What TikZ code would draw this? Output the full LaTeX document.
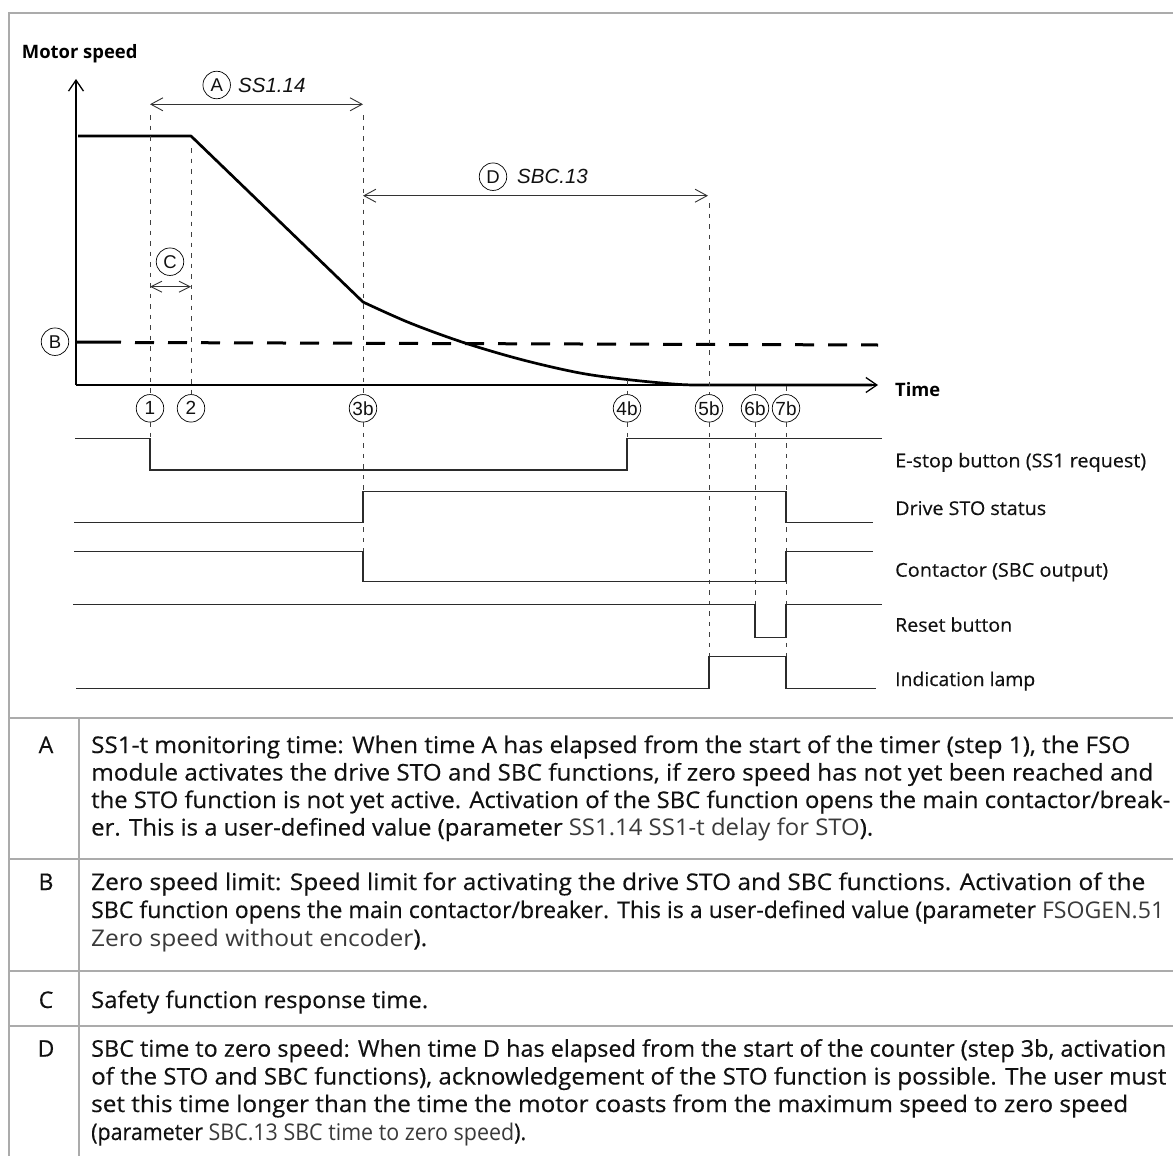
\documentclass[tikz,border=0pt]{standalone}
\usepackage{fontspec}
\setmainfont{Open Sans}
\newfontfamily\bodyf[FakeBold=0.35]{Open Sans}
\newfontfamily\arialf{Liberation Sans}
\usetikzlibrary{arrows.meta}
\definecolor{framegray}{HTML}{ABABAB}
\definecolor{wave}{HTML}{2B2B2B}
\definecolor{txt}{HTML}{111111}
\definecolor{lighttxt}{HTML}{3A3A3A}
\newcommand\tl[2]{\resizebox{#1pt}{\height}{#2}}
\newcommand\lt[1]{{\normalfont\color{lighttxt}#1}}
\begin{document}
\begin{tikzpicture}[x=1pt,y=-1pt,
  vdash/.style={line width=0.8pt, draw=black!75, dash pattern=on 4.5pt off 6pt},
  wav/.style={line width=1.3pt, draw=wave, line join=miter},
  circ/.style={circle, draw=black, line width=0.7pt, fill=white, minimum size=27.5pt, inner sep=0pt, text=txt, font=\arialf\fontsize{19pt}{19pt}\selectfont},
  lcirc/.style={circ, font=\arialf\fontsize{18.5pt}{18.5pt}\selectfont},
  dimarrow/.style={line width=0.9pt, draw=black!80, {Straight Barb[length=12pt,width=13pt]}-{Straight Barb[length=12pt,width=13pt]}},
  smalldim/.style={line width=0.9pt, draw=black!80, {Straight Barb[length=11pt,width=11pt]}-{Straight Barb[length=11pt,width=11pt]}},
  axisline/.style={line width=1.3pt, draw=black, -{Straight Barb[length=11pt,width=15pt]}},
  speedline/.style={line width=2.7pt, draw=black, line join=round},
  bline/.style={line width=3pt, draw=black},
  ital/.style={anchor=base west, inner sep=0pt, text=txt, font=\arialf\itshape\fontsize{20.5pt}{20.5pt}\selectfont},
  sig/.style={anchor=base west, inner sep=0pt, text=txt, font=\bodyf\fontsize{19pt}{19pt}\selectfont},
  bold/.style={anchor=base west, inner sep=0pt, text=black, font=\bfseries\fontsize{18.5pt}{18.5pt}\selectfont},
  tline/.style={anchor=base west, inner sep=0pt, text=txt, font=\bodyf\fontsize{23pt}{23pt}\selectfont},
  rowl/.style={anchor=base, inner sep=0pt, text=txt, font=\bodyf\fontsize{23pt}{23pt}\selectfont},
  tab/.style={draw=framegray, line width=1.4pt}
]
\useasboundingbox (0,0) rectangle (1173,1156);
\fill[white] (0,0) rectangle (1173,1156);

% frame and table
\draw[tab, line width=1.6pt] (1173,13) -- (9,13) -- (9,1156);
\foreach \yy in {718,859,971,1026} \draw[tab] (9,\yy) -- (1173,\yy);
\draw[tab] (79,718) -- (79,1156);

% axes
\coordinate (org) at (76,385);
\coordinate (ytip) at (76,79);
\coordinate (xtip) at (878,385);
\draw[axisline] (org) -- (ytip);
\draw[axisline] (org) -- (xtip);
\node[bold] (ms) at (21.7,58.5) {\tl{115.6}{Motor speed}};
\node[bold] (time) at (895,396) {\tl{45}{Time}};

% zero speed limit line
\draw[bline] (76,342) -- (121,342.2);
\draw[bline, dash pattern=on 19pt off 14pt] (135,342.5) -- (878,345);

% speed curve
\draw[speedline] (78,136) -- (191,136) -- (363,302) -- plot[smooth, tension=0.55] coordinates {(363,302) (410,323) (465,343) (523,360) (580,373) (627,379.5) (677,384.3) (700,385)} -- (872,385);

% dimension arrows
\coordinate (a1) at (150,104.3);
\coordinate (a2) at (363,104.3);
\draw[dimarrow] (a1) -- (a2);
\node[lcirc] (ca) at (216.7,85) {A};
\node[ital] (ss) at (238,92.5) {SS1.14};

\coordinate (d1) at (363,195.7);
\coordinate (d2) at (708,195.7);
\draw[dimarrow] (d1) -- (d2);
\node[lcirc] (cd) at (493,176.7) {D};
\node[ital] (sbc) at (517,183.3) {SBC.13};

\coordinate (c1) at (150,286.7);
\coordinate (c2) at (191,286.7);
\draw[smalldim] (c1) -- (c2);
\node[lcirc] (cc) at (170,261.7) {C};

\node[lcirc] (cb) at (55,341.7) {B};

% event circles
\node[circ] (n1) at (150,408.3) {1};
\node[circ] (n2) at (191,408.3) {2};
\node[circ] (n3) at (363,408.3) {3b};
\node[circ] (n4) at (627,408.3) {4b};
\node[circ] (n5) at (709,408.3) {5b};
\node[circ] (n6) at (755,408.3) {6b};
\node[circ] (n7) at (786,408.3) {7b};

% vertical dashed lines
\coordinate (t1) at (150,115);   \coordinate (b1) at (150,438.3);
\coordinate (t2) at (191,148);
\coordinate (t3) at (363,115);   \coordinate (b3) at (363,582);
\coordinate (t4) at (627,380);   \coordinate (b4) at (627,438.3);
\coordinate (t5) at (709,203);   \coordinate (b5) at (709,657);
\coordinate (t6) at (755,386);   \coordinate (b6) at (755,604.3);
\coordinate (t7) at (786,386);   \coordinate (b7) at (786,657);
\draw[vdash] (t1) -- (n1.north);  \draw[vdash] (n1.south) -- (b1);
\draw[vdash] (t2) -- (n2.north);
\draw[vdash] (t3) -- (n3.north);  \draw[vdash] (n3.south) -- (b3);
\draw[vdash] (t4) -- (n4.north);  \draw[vdash] (n4.south) -- (b4);
\draw[vdash] (t5) -- (n5.north);  \draw[vdash] (n5.south) -- (b5);
\draw[vdash] (t6) -- (n6.north);  \draw[vdash] (n6.south) -- (b6);
\draw[vdash] (t7) -- (n7.north);  \draw[vdash] (n7.south) -- (b7);

% waveforms
\draw[wav] (75,438.3) -- (150,438.3) -- (150,470) -- (627,470) -- (627,438.3) -- (882,438.3);
\draw[wav] (74,522.3) -- (363,522.3) -- (363,491.7) -- (786,491.7) -- (786,522.3) -- (873,522.3);
\draw[wav] (74,551.7) -- (363,551.7) -- (363,581.7) -- (786,581.7) -- (786,551.7) -- (873,551.7);
\draw[wav] (73,604.3) -- (755,604.3) -- (755,637.3) -- (786,637.3) -- (786,604.3) -- (882,604.3);
\draw[wav] (76,688.3) -- (709,688.3) -- (709,656.7) -- (786,656.7) -- (786,688.3) -- (876,688.3);

% signal labels
\node[sig] (l1) at (895,467.3) {\tl{251}{E-stop button (SS1 request)}};
\node[sig] (l2) at (895,515) {\tl{151}{Drive STO status}};
\node[sig] (l3) at (895,576.7) {\tl{213}{Contactor (SBC output)}};
\node[sig] (l4) at (895,631.7) {\tl{117}{Reset button}};
\node[sig] (l5) at (895,686) {\tl{140}{Indication lamp}};

% table text
\node[rowl] (ra) at (46,753) {A};
\node[tline] (ta1) at (91,753) {\tl{1039}{SS1-t monitoring time: When time A has elapsed from the start of the timer (step 1), the FSO}};
\node[tline] (ta2) at (91,780.5) {\tl{1062}{module activates the drive STO and SBC functions, if zero speed has not yet been reached and}};
\node[tline] (ta3) at (91,808) {\tl{1079}{the STO function is not yet active. Activation of the SBC function opens the main contactor/break-}};
\node[tline] (ta4) at (91,835.5) {\tl{782}{er. This is a user-defined value (parameter \lt{SS1.14 SS1-t delay for STO}).}};

\node[rowl] (rb) at (46,890) {B};
\node[tline] (tb1) at (91,890) {\tl{1054}{Zero speed limit: Speed limit for activating the drive STO and SBC functions. Activation of the}};
\node[tline] (tb2) at (91,918) {\tl{1073}{SBC function opens the main contactor/breaker. This is a user-defined value (parameter \lt{FSOGEN.51}}};
\node[tline] (tb3) at (91,946) {\tl{336}{\lt{Zero speed without encoder}).}};

\node[rowl] (rc) at (46,1008) {C};
\node[tline] (tc1) at (91,1008) {\tl{337}{Safety function response time.}};

\node[rowl] (rd) at (46,1056.7) {D};
\node[tline] (td1) at (91,1056.7) {\tl{1075}{SBC time to zero speed: When time D has elapsed from the start of the counter (step 3b, activation}};
\node[tline] (td2) at (91,1084.5) {\tl{1075}{of the STO and SBC functions), acknowledgement of the STO function is possible. The user must}};
\node[tline] (td3) at (91,1112) {\tl{1037}{set this time longer than the time the motor coasts from the maximum speed to zero speed}};
\node[tline] (td4) at (91,1140) {\tl{435}{(parameter \lt{SBC.13 SBC time to zero speed}).}};
\end{tikzpicture}
\end{document}
